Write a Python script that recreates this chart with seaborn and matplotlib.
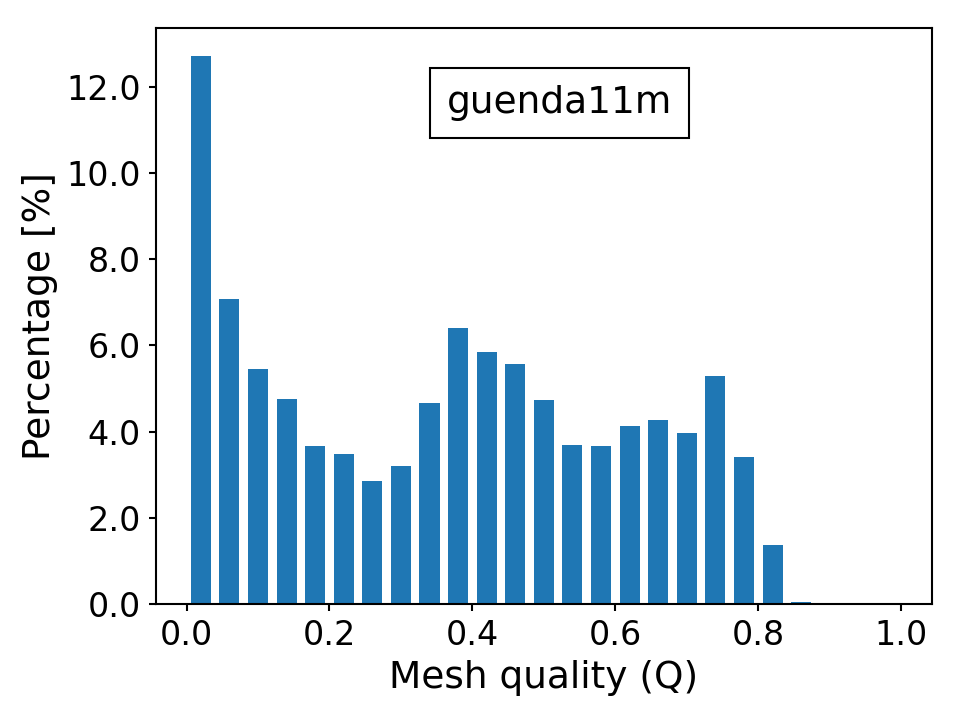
import numpy as np
import pandas as pd
import seaborn as sns
import matplotlib.pyplot as plt
from matplotlib.ticker import FormatStrFormatter

sns.set_theme(style="ticks")
plt.rcParams.update({
    'font.family': ['DejaVu Sans'],
    'axes.edgecolor': 'black',
    'axes.linewidth': 1.0,
    'xtick.color': 'black',
    'ytick.color': 'black',
    'text.color': 'black',
    'axes.labelcolor': 'black',
})

# 25 bins of width 0.04 on [0, 1], percentage of elements per bin
bin_edges = [round(0.04 * i, 2) for i in range(26)]
bin_centers = [round(0.02 + 0.04 * i, 2) for i in range(25)]
percentages = [12.72, 7.08, 5.44, 4.75, 3.66, 3.47, 2.86, 3.20, 4.67, 6.41,
               5.85, 5.57, 4.74, 3.68, 3.66, 4.14, 4.27, 3.96, 5.30, 3.42,
               1.37, 0.04, 0.0, 0.0, 0.0]
mesh_name = "guenda11m"

df = pd.DataFrame({"Q": bin_centers, "pct": percentages})

fig, ax = plt.subplots(figsize=(6.4, 4.8), dpi=150)
fig.subplots_adjust(left=0.162, right=0.971, bottom=0.161, top=0.961)

sns.histplot(data=df, x="Q", weights="pct", bins=bin_edges, shrink=0.7,
             color="#1f77b4", alpha=1.0, linewidth=0, ax=ax)

ax.set_xlabel("Mesh quality (Q)", fontsize=18)
ax.set_ylabel("Percentage [%]", fontsize=18)
ax.tick_params(labelsize=16, length=3.5, width=1.0, pad=3.5)
ax.yaxis.set_major_formatter(FormatStrFormatter('%.1f'))
ax.set_xticks([0.0, 0.2, 0.4, 0.6, 0.8, 1.0])

ax.text(0.52, 0.87, mesh_name, transform=ax.transAxes, fontsize=18,
        ha="center", va="center",
        bbox=dict(boxstyle="square,pad=0.45", facecolor="white", edgecolor="black"))

fig.savefig("out.png", dpi=150)
